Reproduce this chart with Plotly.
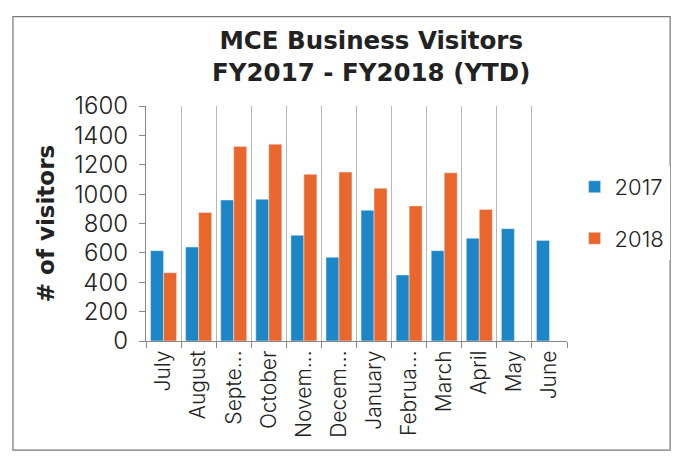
import plotly.graph_objects as go

months = ["July", "August", "Septe…", "October", "Novem…", "Decem…",
          "January", "Februa…", "March", "April", "May", "June"]
visitors_2017 = [615, 640, 960, 965, 720, 570, 890, 450, 615, 700, 765, 685]
visitors_2018 = [465, 875, 1325, 1340, 1135, 1150, 1040, 920, 1145, 895, None, None]
y_ticks = [0, 200, 400, 600, 800, 1000, 1200, 1400, 1600]

BLUE = "#1d86c6"
ORANGE = "#e9672c"
FONT = "Inter"
BOLD = "DejaVu Sans"

fig = go.Figure()
fig.add_trace(go.Bar(x=months, y=visitors_2017, name="2017", marker_color=BLUE,
                     legendgroup="a"))
fig.add_trace(go.Bar(x=months, y=visitors_2018, name="2018", marker_color=ORANGE,
                     legendgroup="b"))

fig.update_layout(
    width=676, height=461,
    margin=dict(l=146, r=109, t=106, b=120, autoexpand=False),
    paper_bgcolor="white", plot_bgcolor="white",
    barmode="group", bargap=0.26, bargroupgap=0.0,
    font=dict(family=FONT, size=21, color="#222", weight=300),
    title=dict(text="MCE Business Visitors<br>FY2017 - FY2018 (YTD)",
               x=0.535, xref="paper", xanchor="center",
               y=0.893, yref="container", yanchor="middle",
               font=dict(family=BOLD, size=24.5, color="#222", weight="bold")),
    legend=dict(xref="container", x=0.85, xanchor="left", y=0.545, yanchor="middle",
                font=dict(family=FONT, size=22, color="#222", weight=300),
                tracegroupgap=20, itemwidth=30),
    showlegend=True,
    shapes=[dict(type="rect", xref="paper", yref="paper",
                 x0=-0.316, x1=1.245, y0=-0.464, y1=1.38,
                 line=dict(color="#777", width=1.2))],
)

fig.update_xaxes(
    type="category", tickangle=-90, tickson="boundaries",
    showgrid=True, gridcolor="#b8b8b8", gridwidth=1,
    showline=True, linecolor="#888", linewidth=1.2,
    ticks="outside", ticklen=6, tickcolor="#888",
    tickfont=dict(family=FONT, size=21, color="#222", weight=300),
)
fig.update_yaxes(
    range=[0, 1600], tickvals=y_ticks, showgrid=False, zeroline=False,
    showline=True, linecolor="#888", linewidth=1.2,
    ticks="outside", ticklen=6, tickcolor="#888",
    tickfont=dict(family=FONT, size=24, color="#222", weight=300),
    ticklabelstandoff=6,
    title=dict(text="# of visitors", standoff=12,
               font=dict(family=BOLD, size=23, color="#222", weight="bold")),
)

fig.write_html("out.html")
